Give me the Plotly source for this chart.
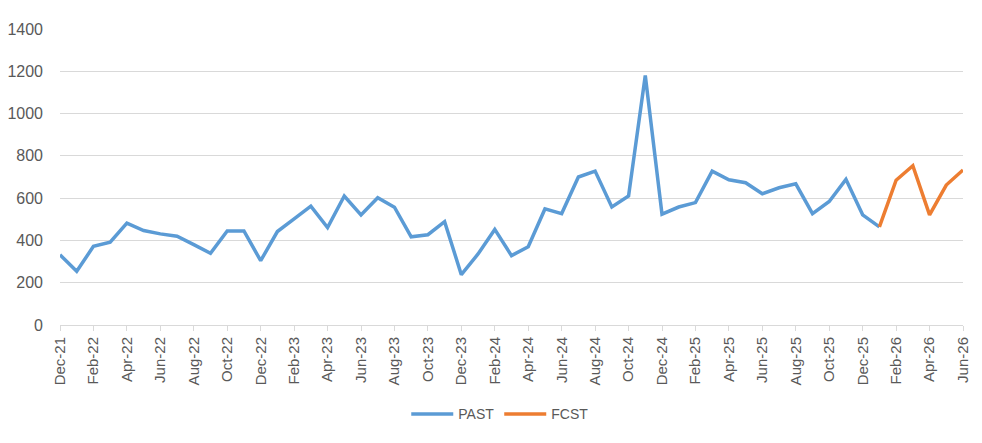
import plotly.graph_objects as go

months = []
mnames = ["Jan","Feb","Mar","Apr","May","Jun","Jul","Aug","Sep","Oct","Nov","Dec"]
# Dec-21 .. Jun-26
months.append("Dec-21")
for yr in [22, 23, 24, 25]:
    for m in mnames:
        months.append(f"{m}-{yr}")
for m in mnames[:6]:
    months.append(f"{m}-26")

past_values = [332, 254, 372, 392, 482, 447, 431, 420, 380, 339, 445, 445,
               304, 442, 502, 562, 461, 610, 521, 602, 557, 417, 427, 489,
               238, 336, 452, 328, 370, 549, 527, 700, 728, 558, 610, 1180,
               524, 558, 579, 728, 687, 673, 621, 649, 668, 527, 584, 689,
               521, 464]
fcst_values = [464, 685, 753, 521, 662, 733]

past_x = months[:len(past_values)]
fcst_x = months[len(past_values) - 1:len(past_values) - 1 + len(fcst_values)]

tick_labels = months[::2]

fig = go.Figure()
fig.add_trace(go.Scatter(x=past_x, y=past_values, mode="lines", name="PAST",
                         line=dict(color="#5B9BD5", width=3.5)))
fig.add_trace(go.Scatter(x=fcst_x, y=fcst_values, mode="lines", name="FCST",
                         line=dict(color="#ED7D31", width=3.5)))

font_color = "#595959"
fig.update_layout(
    width=974, height=435,
    margin=dict(l=52, r=19, t=21, b=115),
    paper_bgcolor="white", plot_bgcolor="white",
    font=dict(family="Liberation Sans, Arial, sans-serif", color=font_color, size=14),
    showlegend=True,
    legend=dict(orientation="h", x=0.487, xanchor="center", y=-0.302, yanchor="middle",
                itemwidth=42,
                font=dict(size=14, color=font_color)),
    xaxis=dict(type="category", categoryorder="array", categoryarray=months,
               range=[0, len(months) - 1], automargin=False,
               tickmode="array", tickvals=tick_labels, ticktext=tick_labels,
               tickangle=-90, showgrid=False, showline=True, linecolor="#D9D9D9",
               linewidth=1, ticks="outside", ticklen=5, tickcolor="#D9D9D9",
               tickfont=dict(size=15, color=font_color), zeroline=False),
    yaxis=dict(range=[0, 1400], dtick=200, showgrid=True, gridcolor="#D9D9D9",
               gridwidth=1, zeroline=False, showline=False, automargin=False,
               ticklabelstandoff=16,
               tickfont=dict(size=16, color=font_color)),
)

fig.write_html("out.html")
